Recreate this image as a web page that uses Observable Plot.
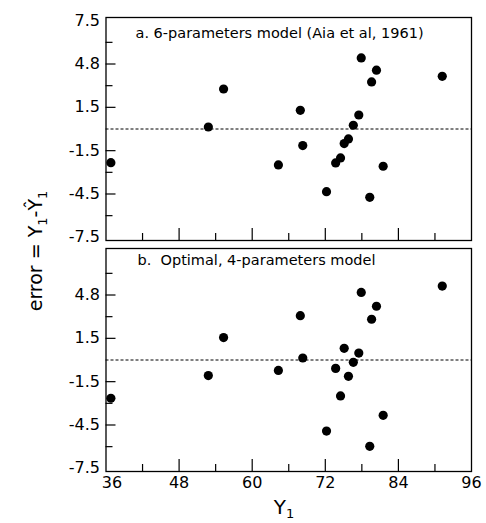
<!DOCTYPE html>
<html><head><meta charset="utf-8">
<script src="https://cdn.jsdelivr.net/npm/d3@7"></script>
<script src="https://cdn.jsdelivr.net/npm/@observablehq/plot@0.6"></script>
<style>body{margin:0;background:#fff;}</style>
</head><body><div id="chart"></div>
<script>
// Y1 observations (shared by both panels)
const y1 = [36.8, 52.8, 55.3, 64.3, 67.9, 68.3, 72.2, 73.7, 74.5, 75.1, 75.8, 76.6, 77.5, 77.9, 79.3, 79.6, 80.4, 81.5, 91.2];
// errors, panel a (6-parameters model)
const errA = [-2.33, 0.14, 2.77, -2.49, 1.29, -1.15, -4.34, -2.35, -2.0, -1.01, -0.69, 0.26, 0.97, 4.92, -4.73, 3.26, 4.07, -2.58, 3.65];
// errors, panel b (optimal 4-parameters model)
const errB = [-2.65, -1.08, 1.55, -0.72, 3.07, 0.14, -4.92, -0.58, -2.49, 0.81, -1.13, -0.16, 0.48, 4.68, -5.98, 2.82, 3.72, -3.83, 5.12];

const panels = ["a", "b"];
const panelTitles = ["a. 6-parameters model (Aia et al, 1961)", "b.  Optimal, 4-parameters model"];
const xTickLabels = [36, 48, 60, 72, 84, 96];
const xMajorTicks = [48, 60, 72, 84];
const xMinorTicks = [42, 54, 66, 78, 90];
const yMajorTicks = [-4.5, -1.5, 1.5, 4.5];
const yMinorTicks = [-6, -3, 3, 6];
const yTickValuesA = [7.5, 4.5, 1.5, -1.5, -4.5, -7.5];
const yTickTextA = ["7.5", "4.8", "1.5", "-1.5", "-4.5", "-7.5"];
const yTickValuesB = [4.5, 1.5, -1.5, -4.5, -7.5];
const yTickTextB = ["4.8", "1.5", "-1.5", "-4.5", "-7.5"];

const points = [
  ...y1.map((x, i) => ({panel: "a", x, e: errA[i]})),
  ...y1.map((x, i) => ({panel: "b", x, e: errB[i]}))
];
const yTicks = [
  ...yTickValuesA.map((v, i) => ({panel: "a", v, t: yTickTextA[i]})),
  ...yTickValuesB.map((v, i) => ({panel: "b", v, t: yTickTextB[i]}))
];
const titles = panels.map((p, i) => ({panel: p, t: panelTitles[i]}));

const W = 486, H = 523, mL = 105.5, mR = 15, mT = 17, mB = 52;
const innerW = W - mL - mR;
const gap = 8;
const bandH = (H - mT - mB - gap) / 2;
const font = "DejaVu Sans";

const plot = Plot.plot({
  width: W, height: H,
  marginLeft: mL, marginRight: mR, marginTop: mT, marginBottom: mB,
  style: {fontFamily: font, background: "white", color: "black"},
  x: {domain: [36, 96], axis: null},
  y: {domain: [-7.72, 7.72], axis: null},
  fy: {domain: panels, axis: null, paddingInner: gap / (bandH + gap), paddingOuter: 0, round: false},
  marks: [
    Plot.ruleY([0], {stroke: "black", strokeWidth: 1, strokeDasharray: "3,2"}),
    Plot.tickX(xMajorTicks, {x: d => d, insetTop: bandH - 12, stroke: "black", strokeWidth: 1.2}),
    Plot.tickX(xMinorTicks, {x: d => d, insetTop: bandH - 7, stroke: "black", strokeWidth: 1.2}),
    Plot.tickY(yMajorTicks, {y: d => d, insetRight: innerW - 10, stroke: "black", strokeWidth: 1.2}),
    Plot.tickY(yMinorTicks, {y: d => d, insetRight: innerW - 7, stroke: "black", strokeWidth: 1.2}),
    Plot.frame({stroke: "black", strokeWidth: 1.3}),
    Plot.dot(points, {x: "x", y: "e", fy: "panel", r: 4.6, fill: "black", stroke: "none"}),
    Plot.text(yTicks, {y: "v", text: "t", fy: "panel", frameAnchor: "left", textAnchor: "end", dx: -6, fontSize: 16, fill: "black"}),
    Plot.text(titles.filter(d => d.panel === "a"), {fy: "panel", text: "t", frameAnchor: "top-left", textAnchor: "start", lineAnchor: "top", dx: 29.5, dy: 10, fontSize: 14.5, fill: "black"}),
    Plot.text(titles.filter(d => d.panel === "b"), {fy: "panel", text: "t", frameAnchor: "top-left", textAnchor: "start", lineAnchor: "top", dx: 31.5, dy: 6, fontSize: 14.5, fill: "black"}),
    Plot.text(xTickLabels.slice(1), {x: d => d, text: d => String(d), fy: () => "b", frameAnchor: "bottom", lineAnchor: "top", dy: 5, fontSize: 16, fill: "black"}),
    Plot.text(xTickLabels.slice(0, 1), {x: d => d, text: d => String(d), fy: () => "b", frameAnchor: "bottom", lineAnchor: "top", dy: 5, dx: 6, fontSize: 16, fill: "black"})
  ]
});

const svg = d3.select(plot);
const yt = svg.append("text")
  .attr("transform", "translate(42,251) rotate(-90)")
  .attr("text-anchor", "middle").attr("font-size", 19)
  .attr("font-family", font).attr("fill", "black");
yt.append("tspan").text("error = Y");
yt.append("tspan").attr("font-size", 13).attr("dy", 5).text("1");
yt.append("tspan").attr("dy", -5).text("-Ŷ");
yt.append("tspan").attr("font-size", 13).attr("dy", 5).text("1");

const xt = svg.append("text")
  .attr("x", 284).attr("y", 514)
  .attr("text-anchor", "middle").attr("font-size", 20)
  .attr("font-family", font).attr("fill", "black");
xt.append("tspan").text("Y");
xt.append("tspan").attr("font-size", 13).attr("dy", 4).text("1");

document.getElementById("chart").appendChild(plot);
</script>
</body></html>
